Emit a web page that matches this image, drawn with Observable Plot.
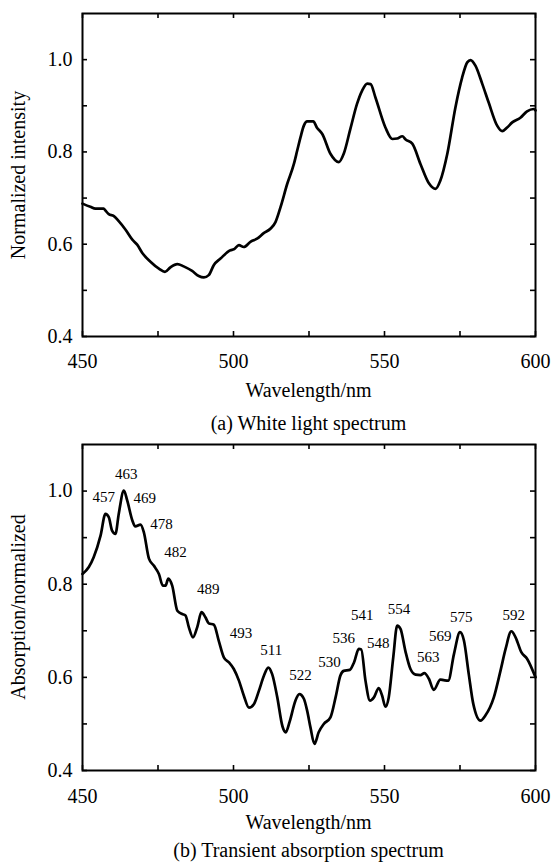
<!DOCTYPE html>
<html>
<head>
<meta charset="utf-8">
<script src="https://cdn.jsdelivr.net/npm/d3@7"></script>
<script src="https://cdn.jsdelivr.net/npm/@observablehq/plot@0.6"></script>
<style>
  html, body { margin: 0; padding: 0; background: #fff; }
  #wrap { position: relative; width: 551px; height: 864px; font-family: "Liberation Serif", "Times New Roman", serif; color: #000; }
  .abs { position: absolute; }
  .txt { position: absolute; font-size: 20px; line-height: 20px; white-space: nowrap; text-align: center; }
</style>
</head>
<body>
<div id="wrap"></div>
<script>
// ---------- Data ----------
// (a) White light spectrum
const wlA = [450.0,452.6,454.3,457.0,457.6,458.7,460.4,462.0,464.2,466.5,468.1,469.8,472.5,475.3,477.3,479.1,481.4,483.5,486.3,488.5,490.2,491.8,493.5,495.7,499.0,500.1,501.8,503.4,505.6,507.8,510.0,512.3,513.9,515.6,517.8,520.0,521.1,522.2,523.3,524.4,526.4,527.7,529.4,532.1,534.9,536.5,538.7,540.9,542.6,544.3,545.4,547.0,550.3,552.6,554.2,555.9,557.0,559.2,561.9,564.7,566.9,568.5,570.8,573.5,575.7,577.4,578.5,580.1,582.4,584.5,587.3,589.0,590.6,592.3,595.0,597.2,599.4,600.0];
const intA = [0.688,0.681,0.677,0.677,0.673,0.665,0.661,0.650,0.632,0.610,0.599,0.581,0.562,0.547,0.540,0.550,0.557,0.552,0.542,0.531,0.528,0.533,0.555,0.569,0.587,0.589,0.598,0.594,0.605,0.612,0.624,0.634,0.648,0.681,0.731,0.774,0.803,0.832,0.857,0.866,0.866,0.852,0.839,0.796,0.778,0.796,0.850,0.904,0.933,0.948,0.947,0.918,0.853,0.828,0.829,0.834,0.827,0.818,0.774,0.732,0.720,0.738,0.796,0.897,0.961,0.994,0.999,0.987,0.947,0.907,0.857,0.845,0.853,0.864,0.874,0.888,0.893,0.890];

// (b) Transient absorption spectrum
const wlB = [450.0,452.1,453.7,456.0,457.6,458.7,459.8,460.9,462.0,463.7,464.8,466.5,467.5,469.2,470.3,472.0,473.6,475.3,476.6,477.5,478.4,479.7,481.4,483.0,484.1,485.2,486.6,488.0,489.4,490.7,491.8,493.5,495.1,496.8,498.5,500.1,501.8,503.4,505.1,506.8,508.4,510.1,511.5,512.8,514.5,516.2,517.3,518.6,520.5,521.8,523.3,524.4,525.5,526.8,528.2,529.9,532.1,533.8,535.4,536.5,538.5,539.9,541.5,542.3,543.7,545.2,546.5,548.1,549.2,550.3,551.4,552.9,554.2,555.3,556.9,558.6,560.3,561.9,563.2,564.7,566.3,568.5,569.6,571.1,573.0,575.0,576.3,577.9,579.4,581.8,583.4,586.2,588.4,590.1,592.0,593.4,595.3,597.2,600.0];
const absB = [0.822,0.837,0.858,0.905,0.951,0.944,0.915,0.908,0.951,1.001,0.980,0.937,0.924,0.928,0.912,0.855,0.840,0.822,0.797,0.797,0.812,0.797,0.743,0.736,0.733,0.708,0.686,0.708,0.740,0.729,0.716,0.713,0.679,0.643,0.632,0.618,0.593,0.561,0.535,0.543,0.571,0.604,0.621,0.607,0.557,0.495,0.482,0.505,0.550,0.564,0.554,0.528,0.492,0.457,0.482,0.500,0.514,0.557,0.604,0.614,0.616,0.632,0.661,0.660,0.593,0.550,0.557,0.577,0.561,0.537,0.557,0.643,0.711,0.704,0.657,0.618,0.606,0.605,0.609,0.597,0.573,0.595,0.594,0.593,0.650,0.697,0.679,0.607,0.543,0.507,0.518,0.557,0.614,0.661,0.699,0.686,0.654,0.640,0.600];

// Peak annotations of (b): label text and its anchor (wavelength, value)
const peakText = ["457","463","469","478","482","489","493","511","522","530","536","541","548","554","563","569","575","592"];
const peakX = [457.0,464.5,470.6,476.2,480.8,491.6,502.5,512.5,522.2,531.8,536.5,542.6,547.9,554.8,564.5,568.5,575.4,592.8];
const peakY = [0.987,1.037,0.984,0.928,0.869,0.790,0.695,0.659,0.604,0.632,0.684,0.733,0.674,0.747,0.643,0.688,0.730,0.733];

// Axes
const xTickLabels = [450, 500, 550, 600];
const xTicksAll = [450, 475, 500, 525, 550, 575, 600];
const yTickLabels = [0.4, 0.6, 0.8, 1.0];
const yTicksAll = [0.4, 0.5, 0.6, 0.7, 0.8, 0.9, 1.0];
const xDomain = [450, 600];
const yDomain = [0.4, 1.1];

// ---------- Drawing ----------
const W = 551, ML = 82, MR = 16;
const FONT = '"Liberation Serif", "Times New Roman", serif';

function panel({wl, val, mt, mb, height, tickPad, labels}) {
  const plotH = height - mt - mb, plotW = W - ML - MR, tl = 5;
  const series = wl.map((x, i) => ({x, y: val[i]}));
  const marks = [
    Plot.ruleX(xTicksAll, {x: d => d, insetTop: plotH - tl, strokeWidth: 1.6}),
    Plot.ruleX(xTicksAll, {x: d => d, insetBottom: plotH - tl, strokeWidth: 1.6}),
    Plot.ruleY(yTicksAll, {y: d => d, insetRight: plotW - tl, strokeWidth: 1.6}),
    Plot.ruleY(yTicksAll, {y: d => d, insetLeft: plotW - tl, strokeWidth: 1.6}),
    Plot.axisX(xTickLabels, {anchor: "bottom", tickSize: 0, tickPadding: tickPad, fontSize: 20, label: null, tickFormat: d => String(d)}),
    Plot.axisY(yTickLabels, {anchor: "left", tickSize: 0, tickPadding: 10, fontSize: 20, label: null, tickFormat: d3.format(".1f")}),
    Plot.line(series, {x: "x", y: "y", stroke: "#000", strokeWidth: 2.7, curve: "monotone-x", strokeLinejoin: "round"}),
    Plot.frame({stroke: "#000", strokeWidth: 2})
  ];
  if (labels) {
    const lab = labels.text.map((t, i) => ({t, x: labels.x[i], y: labels.y[i]}));
    marks.push(Plot.text(lab, {x: "x", y: "y", text: "t", fontSize: 15, fill: "#000"}));
  }
  return Plot.plot({
    width: W, height,
    marginLeft: ML, marginRight: MR, marginTop: mt, marginBottom: mb,
    style: {fontFamily: FONT, background: "#fff", color: "#000", overflow: "visible"},
    x: {domain: xDomain},
    y: {domain: yDomain},
    marks
  });
}

const wrap = document.getElementById("wrap");
function place(el, top) { el.classList.add("abs"); el.style.left = "0px"; el.style.top = top + "px"; wrap.appendChild(el); }
function text(str, cx, baseline, rotate) {
  const d = document.createElement("div");
  d.className = "txt";
  d.textContent = str;
  d.style.width = "320px";
  d.style.left = (cx - 160) + "px";
  d.style.top = (baseline - 16.7) + "px";
  if (rotate) { d.style.top = (baseline - 10) + "px"; d.style.transform = "rotate(-90deg)"; }
  wrap.appendChild(d);
}

const top1 = 0, h1 = 400, mt1 = 13, mb1 = 64;
place(panel({wl: wlA, val: intA, mt: mt1, mb: mb1, height: h1, tickPad: 17}), top1);
const top2 = 432, h2 = 400, mt2 = 12, mb2 = 62;
place(panel({wl: wlB, val: absB, mt: mt2, mb: mb2, height: h2, tickPad: 18,
  labels: {text: peakText, x: peakX, y: peakY}}), top2);

const cx = ML + (W - ML - MR) / 2;
text("Wavelength/nm", cx, 397);
text("(a) White light spectrum", cx, 430);
text("Wavelength/nm", cx, 829);
text("(b) Transient absorption spectrum", cx, 857);
// rotated y-axis titles (center positions)
text("Normalized intensity", 18, top1 + (mt1 + h1 - mb1) / 2, true);
text("Absorption/normalized", 18, top2 + (mt2 + h2 - mb2) / 2, true);
</script>
</body>
</html>
